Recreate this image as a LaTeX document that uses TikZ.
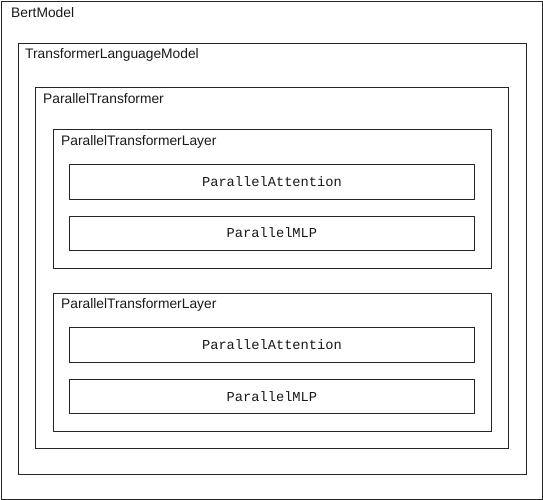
\documentclass[tikz,border=0pt]{standalone}
\usepackage{fontspec}
\setmainfont{Liberation Sans}
\newfontfamily\monofont{Liberation Mono}
\begin{document}
\begin{tikzpicture}[x=1pt,y=-1pt,
  box/.style={draw=black!85, line width=0.9pt, inner sep=0pt, anchor=north west},
  lbl/.style={anchor=west, inner sep=0pt, font=\fontsize{13.8}{16}\selectfont, text=black!90},
  mlbl/.style={inner sep=0pt, font=\monofont\fontsize{13.7}{16}\selectfont, text=black!90}]
\useasboundingbox (0,0) rectangle (543,500);
\node[box, minimum width=541pt, minimum height=498pt] (bert) at (0.8,0.8) {};
\node[lbl] (bertl) at (11,13) {BertModel};
\node[box, minimum width=508pt, minimum height=430pt] (tlm) at (17.5,43.5) {};
\node[lbl] (tlml) at (25,55) {TransformerLanguageModel};
\node[box, minimum width=473pt, minimum height=361pt] (pt) at (35,87) {};
\node[lbl] (ptl) at (43,99) {ParallelTransformer};
\node[box, minimum width=438pt, minimum height=138pt] (l1) at (52.5,129.5) {};
\node[lbl] (l1l) at (61,141.5) {ParallelTransformerLayer};
\node[box, minimum width=405pt, minimum height=35pt] (a1) at (69,163.5) {};
\node[mlbl] (a1l) at (a1.center) {ParallelAttention};
\node[box, minimum width=405pt, minimum height=34pt] (m1) at (69,215.5) {};
\node[mlbl] (m1l) at (m1.center) {ParallelMLP};
\node[box, minimum width=438pt, minimum height=138pt] (l2) at (52.5,293) {};
\node[lbl] (l2l) at (61,305) {ParallelTransformerLayer};
\node[box, minimum width=405pt, minimum height=35pt] (a2) at (69,327) {};
\node[mlbl] (a2l) at (a2.center) {ParallelAttention};
\node[box, minimum width=405pt, minimum height=34pt] (m2) at (69,379) {};
\node[mlbl] (m2l) at (m2.center) {ParallelMLP};
\end{tikzpicture}
\end{document}
